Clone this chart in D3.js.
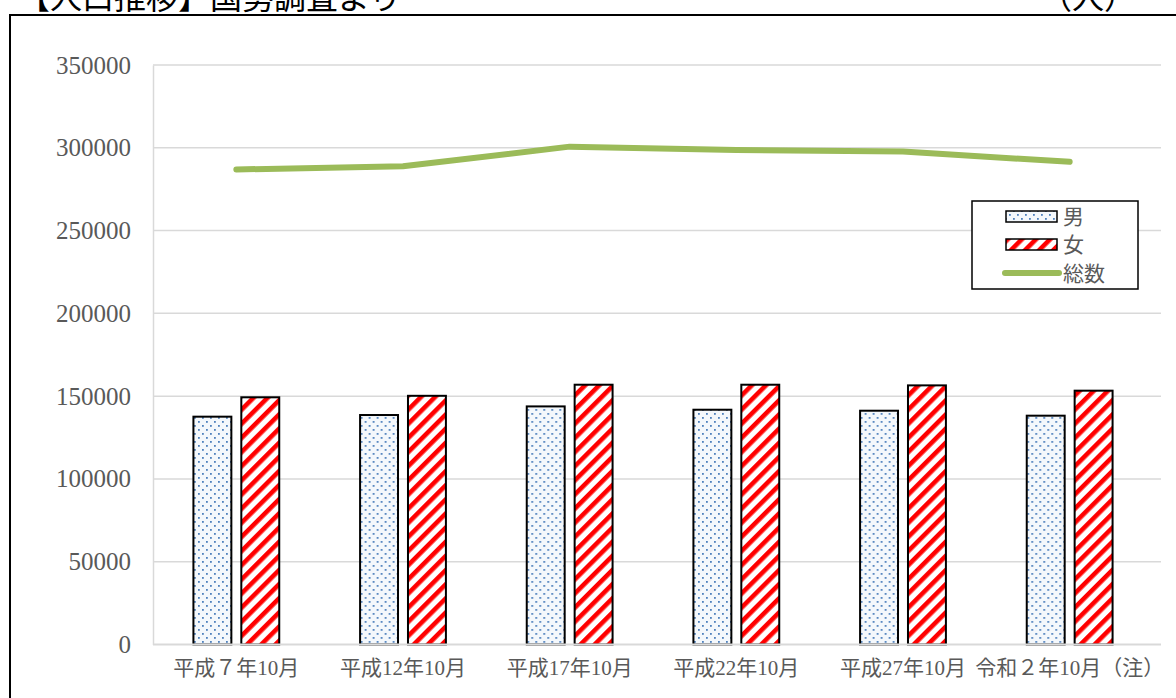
<!DOCTYPE html>
<html>
<head>
<meta charset="utf-8">
<script src="https://cdn.jsdelivr.net/npm/d3@7"></script>
<style>
  html, body { margin: 0; padding: 0; background: #fff; }
  svg { display: block; }
  .serif { font-family: "Liberation Serif", "DejaVu Serif", "Noto Sans CJK JP", serif; }
</style>
</head>
<body>
<svg id="chart" width="1176" height="698"></svg>
<script>
// categories and values
const categories = ["平成７年10月", "平成12年10月", "平成17年10月", "平成22年10月", "平成27年10月", "令和２年10月（注）"];
const male = [137600, 138600, 143800, 141800, 141200, 138200];
const female = [149300, 150200, 156900, 156900, 156500, 153300];
const total = [286900, 288800, 300700, 298700, 297700, 291500];
const yTicks = [0, 50000, 100000, 150000, 200000, 250000, 300000, 350000];
const legendLabels = ["男", "女", "総数"];

const width = 1176, height = 698;
const margin = {left: 153, right: 21, top: 65, bottom: 53.5};
const textColor = "#595959";
const gridColor = "#d9d9d9";
const lineColor = "#9bbb59";

const svg = d3.select("#chart");

// patterns for the bars
const defs = svg.append("defs");
const dots = defs.append("pattern")
    .attr("id", "dots")
    .attr("patternUnits", "userSpaceOnUse")
    .attr("width", 8).attr("height", 8);
dots.append("rect").attr("width", 8).attr("height", 8).attr("fill", "#f4f8fc");
dots.append("rect").attr("x", 1).attr("y", 1).attr("width", 1.8).attr("height", 1.8).attr("fill", "#4f81bd");
dots.append("rect").attr("x", 5).attr("y", 5).attr("width", 1.8).attr("height", 1.8).attr("fill", "#4f81bd");

const stripes = defs.append("pattern")
    .attr("id", "stripes")
    .attr("patternUnits", "userSpaceOnUse")
    .attr("width", 10).attr("height", 10)
    .attr("patternTransform", "rotate(45)");
stripes.append("rect").attr("width", 10).attr("height", 10).attr("fill", "#ffffff");
stripes.append("rect").attr("width", 4.6).attr("height", 10).attr("fill", "#ff0000");

// scales
const x = d3.scaleBand()
    .domain(categories)
    .range([margin.left, width - margin.right - 2])
    .paddingInner(0)
    .paddingOuter(0);
const x1 = d3.scaleBand()
    .domain(["male", "female"])
    .range([0, x.bandwidth()])
    .paddingInner(0.208)
    .paddingOuter(0.844);
const y = d3.scaleLinear()
    .domain([0, 350000])
    .range([height - margin.bottom, margin.top]);

// frame and titles
svg.append("rect")
    .attr("x", 10).attr("y", 15)
    .attr("width", 1180).attr("height", 700)
    .attr("fill", "none")
    .attr("stroke", "#000")
    .attr("stroke-width", 2);

svg.append("text")
    .attr("class", "serif")
    .attr("x", 18).attr("y", 9)
    .attr("font-size", 32)
    .attr("fill", "#000")
    .text("【人口推移】国勢調査より");

svg.append("text")
    .attr("class", "serif")
    .attr("x", 1136).attr("y", 9)
    .attr("text-anchor", "end")
    .attr("font-size", 32)
    .attr("fill", "#000")
    .text("（人）");

// gridlines
svg.append("g")
    .selectAll("line")
    .data(yTicks.slice(1))
    .join("line")
    .attr("x1", margin.left).attr("x2", width - margin.right + 6)
    .attr("y1", d => y(d)).attr("y2", d => y(d))
    .attr("stroke", gridColor)
    .attr("stroke-width", 1.5);

// y axis
const yAxis = svg.append("g")
    .attr("transform", `translate(${margin.left},0)`)
    .call(d3.axisLeft(y).tickValues(yTicks).tickSize(0).tickPadding(22).tickFormat(d3.format("d")));
yAxis.select(".domain").attr("stroke", gridColor).attr("stroke-width", 1.5);
yAxis.selectAll("text")
    .attr("class", "serif")
    .attr("font-size", 25)
    .attr("fill", textColor);

// bars
const groups = svg.append("g")
    .selectAll("g")
    .data(categories)
    .join("g")
    .attr("transform", d => `translate(${x(d)},0)`);

groups.append("rect")
    .attr("x", x1("male"))
    .attr("y", (d, i) => y(male[i]))
    .attr("width", x1.bandwidth())
    .attr("height", (d, i) => y(0) - y(male[i]))
    .attr("fill", "url(#dots)")
    .attr("stroke", "#000")
    .attr("stroke-width", 2);

groups.append("rect")
    .attr("x", x1("female"))
    .attr("y", (d, i) => y(female[i]))
    .attr("width", x1.bandwidth())
    .attr("height", (d, i) => y(0) - y(female[i]))
    .attr("fill", "url(#stripes)")
    .attr("stroke", "#000")
    .attr("stroke-width", 2);

// x axis baseline and labels
const xAxis = svg.append("g")
    .attr("transform", `translate(0,${y(0)})`)
    .call(d3.axisBottom(x).tickSize(0).tickPadding(16));
xAxis.select(".domain").attr("stroke", gridColor).attr("stroke-width", 2)
    .attr("d", `M${margin.left},0H${width - margin.right + 6}`);
xAxis.selectAll("text")
    .attr("class", "serif")
    .attr("font-size", 21)
    .attr("fill", textColor);

// total line
const line = d3.line()
    .x((d, i) => x(categories[i]) + x.bandwidth() / 2)
    .y(d => y(d));
svg.append("path")
    .datum(total)
    .attr("d", line)
    .attr("fill", "none")
    .attr("stroke", lineColor)
    .attr("stroke-width", 6)
    .attr("stroke-linecap", "round")
    .attr("stroke-linejoin", "round");

// legend
const legend = svg.append("g").attr("transform", "translate(972,201)");
legend.append("rect")
    .attr("width", 166).attr("height", 88)
    .attr("fill", "#fff")
    .attr("stroke", "#000")
    .attr("stroke-width", 1.5);
const rowY = [15, 43, 72];
const fills = ["url(#dots)", "url(#stripes)"];
legendLabels.forEach((label, i) => {
    if (i < 2) {
        legend.append("rect")
            .attr("x", 34).attr("y", rowY[i] - 5)
            .attr("width", 51).attr("height", 11)
            .attr("fill", fills[i])
            .attr("stroke", "#000")
            .attr("stroke-width", 1.5);
    } else {
        legend.append("line")
            .attr("x1", 33).attr("x2", 87)
            .attr("y1", rowY[i]).attr("y2", rowY[i])
            .attr("stroke", lineColor)
            .attr("stroke-width", 6)
            .attr("stroke-linecap", "round");
    }
    legend.append("text")
        .attr("class", "serif")
        .attr("x", 91).attr("y", rowY[i])
        .attr("dy", "0.36em")
        .attr("font-size", 21)
        .attr("fill", textColor)
        .text(label);
});
</script>
</body>
</html>
